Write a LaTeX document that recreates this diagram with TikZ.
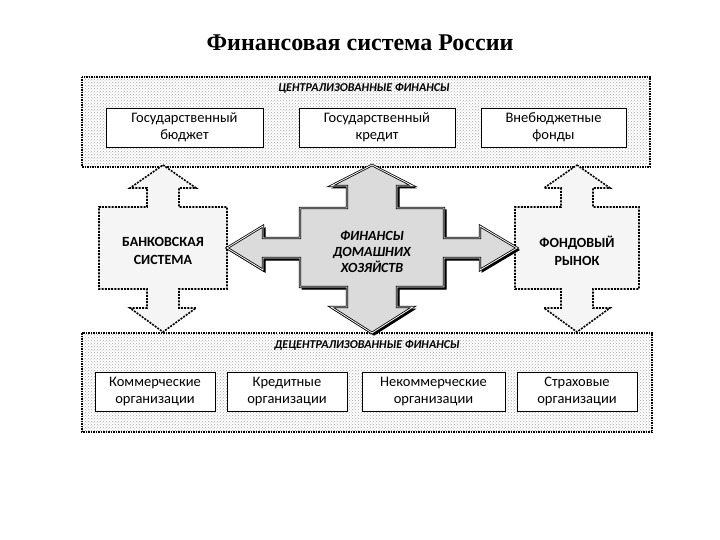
\documentclass[tikz,border=0pt]{standalone}
\usepackage{fontspec}
\setmainfont{Carlito}
\newfontfamily\titlefont{Liberation Serif}
\usetikzlibrary{patterns}

\begin{document}
\begin{tikzpicture}[x=1pt,y=-1pt,
  finbox/.style={draw,fill=white,line width=0.9pt,align=center,inner sep=0pt,
    minimum height=39pt,font=\fontsize{14.5}{17}\selectfont},
  zone/.style={draw,dash pattern=on 1.5pt off 1pt,line width=1.2pt,pattern=crosshatch dots,pattern color=gray!70},
  zonelabel/.style={font=\fontsize{12}{14}\selectfont\bfseries\itshape},
  sidebody/.style={fill=gray!8,draw,dash pattern=on 2pt off 1.2pt,line width=1.6pt},
  sidetext/.style={align=center,font=\fontsize{14}{18}\selectfont\bfseries},
  hubshadow/.style={fill=black,draw=black,line width=1pt},
  hub/.style={fill=gray!28,draw,line width=0.8pt,double=white,double distance=0.8pt}]
  \useasboundingbox (0,0) rectangle (720,540);
  % title
  \node (title) at (360,43) {\titlefont\fontsize{24}{28}\selectfont\bfseries Финансовая система России};
  % centralised finance
  \draw[zone] (82,77) rectangle (650,167);
  \node[zonelabel] (central) at (364,88) {ЦЕНТРАЛИЗОВАННЫЕ ФИНАНСЫ};
  \node[finbox,minimum width=157pt] (budget) at (184.5,127.5) {Государственный\\бюджет};
  \node[finbox,minimum width=156pt] (credit) at (377,127.5) {Государственный\\кредит};
  \node[finbox,minimum width=145pt] (funds) at (553.5,127.5) {Внебюджетные\\фонды};
  % decentralised finance
  \draw[zone] (82,333) rectangle (652,432);
  \node[zonelabel] (decentral) at (367,345) {ДЕЦЕНТРАЛИЗОВАННЫЕ ФИНАНСЫ};
  \node[finbox,minimum width=120pt] (commerce) at (155,391.5) {Коммерческие\\организации};
  \node[finbox,minimum width=120pt] (creditorg) at (287,391.5) {Кредитные\\организации};
  \node[finbox,minimum width=143pt] (noncommerce) at (433.5,391.5) {Некоммерческие\\организации};
  \node[finbox,minimum width=120pt] (insurance) at (577,391.5) {Страховые\\организации};
  % side blocks with up/down arrows
  \foreach \cx/\bw in {163/64,577/62} {
    \draw[sidebody] (\cx,165) -- (\cx+33,188) -- (\cx+16,188) -- (\cx+16,207) -- (\cx+\bw,207)
      -- (\cx+\bw,289) -- (\cx+16,289) -- (\cx+16,308) -- (\cx+33,308) -- (\cx,332)
      -- (\cx-33,308) -- (\cx-16,308) -- (\cx-16,289) -- (\cx-\bw,289) -- (\cx-\bw,207)
      -- (\cx-16,207) -- (\cx-16,188) -- (\cx-33,188) -- cycle;
  }
  \node[sidetext] (bank) at (163,251) {БАНКОВСКАЯ\\СИСТЕМА};
  \node[sidetext] (market) at (577,251) {ФОНДОВЫЙ\\РЫНОК};
  % household finance cross (shadow, then shape)
  \foreach \dx/\sty in {2/hubshadow,0/hub} {
    \draw[\sty,shift={(\dx,\dx)}] (372,165) -- (413,186) -- (397,186) -- (397,208) -- (444,208)
      -- (444,238) -- (480,238) -- (480,226) -- (517,248) -- (480,270) -- (480,258)
      -- (444,258) -- (444,287) -- (397,287) -- (397,307) -- (413,307) -- (372,333)
      -- (331,307) -- (347,307) -- (347,287) -- (300,287) -- (300,258) -- (263,258)
      -- (263,270) -- (227,248) -- (263,226) -- (263,238) -- (300,238) -- (300,208)
      -- (347,208) -- (347,186) -- (331,186) -- cycle;
  }
  \node[sidetext,font=\fontsize{14}{16}\selectfont\bfseries\itshape] (house) at (372,252) {ФИНАНСЫ\\ДОМАШНИХ\\ХОЗЯЙСТВ};
\end{tikzpicture}
\end{document}
